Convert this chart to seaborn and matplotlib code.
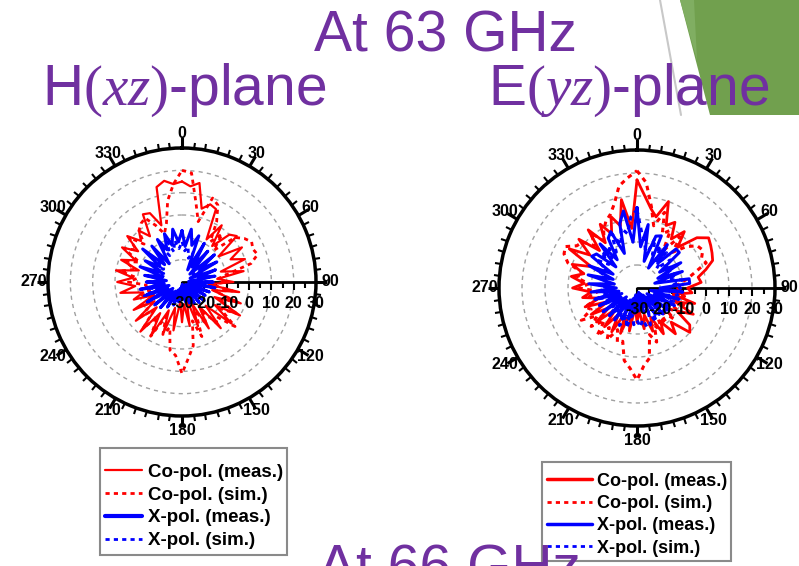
import numpy as np
import pandas as pd
import seaborn as sns
import matplotlib.pyplot as plt
from matplotlib.transforms import offset_copy
from matplotlib.patches import Polygon, Rectangle
from matplotlib.lines import Line2D

# angles in degrees (0 = broadside, clockwise), values in dB
angles = list(range(0, 360, 5))

# H(xz)-plane at 63 GHz
h_co_meas = [15, 13, 15, 4, 7, 6, -8, 1, -9, 0, 2, -10, 1, -6, 0, -12, -2, -14,
             -7, -18, -4, -16, -2, -14, 0, -12, -1, -15, -3, -17, -6, -19, -9, -22, -10, -20,
             -12, -21, -8, -18, -6, -16, -2, -13, -1, -14, -3, -15, -5, -16, -7, -12, -2, -9,
             -1, -8, 0, -10, -1, -7, 1, -6, 2, -4, 0, -5, 5, 4, -3, 14, 16, 14]
h_co_sim = [20, 19, 6, -2, 10, 8, 1, -8, -2, -10, 1, 4, 6, 5, 6, 2, -9, -14,
            -10, -17, -7, -15, -4, -12, -2, -9, 1, -8, -6, -15, -8, -16, -4, -12, -1, 4,
            11, 3, 1, -9, -5, -13, -2, -11, -3, -12, -6, -14, -8, -16, -10, -15, -11, -14,
            -6, -10, -2, -8, -3, -9, 0, -5, 1, -6, 0, 2, 3, -2, -7, -3, 7, 14]
h_x_meas = [-7, -14, -6, -13, -8, -24, -10, -21, -12, -25, -11, -20, -12, -26, -14, -22, -15, -27,
            -16, -24, -15, -27, -17, -25, -18, -28, -17, -26, -18, -28, -19, -27, -20, -28, -21, -29,
            -22, -28, -21, -27, -19, -26, -17, -25, -15, -24, -14, -25, -12, -23, -13, -24, -11, -22,
            -14, -23, -13, -21, -10, -20, -11, -18, -7, -19, -9, -20, -8, -14, -7, -13, -6, -12]
h_x_sim = [-12, -16, -14, -19, -16, -21, -16, -22, -17, -23, -18, -24, -19, -25, -20, -24, -19, -23,
           -17, -22, -19, -24, -21, -26, -21, -27, -22, -27, -23, -28, -24, -28, -25, -28, -26, -28,
           -26, -28, -25, -27, -23, -26, -20, -25, -18, -24, -16, -22, -14, -21, -12, -19, -13, -20,
           -15, -21, -16, -22, -17, -21, -15, -20, -13, -19, -13, -18, -13, -17, -11, -16, -11, -15]

# E(yz)-plane at 63 GHz
e_co_meas = [17, 10, 5, 2, 10, 0, 3, -4, 2, -5, 4, 8, 7, 6, 5, 1, -3, -2,
             -8, -6, -14, -4, -12, -3, -10, -2, 0, -9, -4, -12, -7, -16, -10, -18, -12, -20,
             -15, -22, -11, -19, -9, -18, -8, -16, -8, -17, -7, -15, -7, -16, -6, -13, -6, -10,
             -2, -7, -1, -6, 0, -8, 4, -5, 3, -7, 3, -6, 2, -4, 3, -2, 9, -4]
e_co_sim = [21, 16, 6, -2, 5, -4, -1, -10, -1, -8, -2, 2, 3, 1, 2, -4, -8, -12,
            -10, -16, -9, -15, -7, -14, -8, -16, -9, -17, -10, -14, -8, -12, -5, -9, 1, 4,
            10, 5, 2, -6, -5, -10, -4, -9, -3, -10, -4, -9, -2, -8, -6, -12, -9, -13,
            -5, -9, -3, -6, 2, 5, 6, 2, 1, -4, 1, -5, -1, 2, 4, 8, 15, 18]
e_x_meas = [5, -12, -2, -18, -6, -5, -20, -7, -16, -6, -6, -18, -8, -20, -9, -22, -7, -7,
            -20, -10, -24, -11, -22, -12, -25, -13, -24, -14, -26, -16, -27, -18, -28, -19, -27, -20,
            -26, -19, -27, -16, -25, -15, -24, -14, -23, -13, -24, -12, -22, -12, -23, -11, -22, -10,
            -21, -9, -20, -8, -19, -7, -18, -6, -7, -17, -5, -15, -5, -3, -14, -1, 4, -10]
e_x_sim = [4, -6, -10, -16, -7, -14, -9, -17, -10, -18, -11, -16, -10, -17, -11, -16, -10, -14,
           -11, -15, -12, -18, -13, -20, -13, -21, -14, -20, -15, -19, -13, -18, -13, -12, -16, -13,
           -16, -14, -18, -12, -17, -12, -18, -13, -19, -14, -18, -15, -20, -12, -19, -11, -18, -13,
           -17, -13, -18, -13, -16, -10, -15, -9, -14, -8, -13, -9, -12, -4, -10, -3, -6, 1]

labels = ['Co-pol. (meas.)', 'Co-pol. (sim.)', 'X-pol. (meas.)', 'X-pol. (sim.)']
colors = ['#ff0000', '#ff0000', '#0000ff', '#0000ff']
dots = (0, (1.5, 1.5))
styles = ['-', dots, '-', dots]

sns.set_theme(style='white')
plt.rcParams['font.family'] = ['Liberation Sans', 'DejaVu Sans']
plt.rcParams['mathtext.fontset'] = 'custom'
plt.rcParams['mathtext.it'] = 'Liberation Serif:italic'
plt.rcParams['mathtext.rm'] = 'Liberation Serif'

W, H = 799, 566
fig = plt.figure(figsize=(W / 100, H / 100), dpi=100)
fig.patch.set_facecolor('white')

purple = '#7030a0'


def fx(x):
    return x / W


def fy(y):
    return 1 - y / H


# slide decoration (green corner and thin grey line)
fig.add_artist(Polygon([(fx(680), fy(0)), (fx(799), fy(0)), (fx(799), fy(115)), (fx(710), fy(115))],
                       closed=True, transform=fig.transFigure, facecolor='#71a04e', edgecolor='none', zorder=0))
fig.add_artist(Polygon([(fx(680), fy(0)), (fx(694), fy(0)), (fx(697), fy(60))],
                       closed=True, transform=fig.transFigure, facecolor='#80ae62', edgecolor='none', zorder=0))
fig.add_artist(Line2D([fx(660), fx(681)], [fy(0), fy(115)], transform=fig.transFigure,
                      color='#c8c8c8', lw=1.5, zorder=0))


def polar_panel(cx, cy, r, series, lws):
    ax = fig.add_axes([fx(cx - r), fy(cy + r), 2 * r / W, 2 * r / H], projection='polar')
    ax.set_facecolor('none')
    ax.set_theta_zero_location('N')
    ax.set_theta_direction(-1)
    th = np.deg2rad(np.append(angles, 360))
    for vals, lab, c, ls, lw in zip(series, labels, colors, styles, lws):
        v = np.append(vals, vals[0])
        sns.lineplot(x=th, y=v, ax=ax, color=c, linestyle=ls, lw=lw, sort=False, zorder=3)
    ax.set_ylim(-30, 30)
    ax.set_yticks([-20, -10, 0, 10, 20])
    ax.set_yticklabels([])
    ax.yaxis.grid(True, color='#a0a0a0', linestyle=(0, (3, 3)), lw=1)
    ax.xaxis.grid(False)
    ax.set_xticks(np.deg2rad(np.arange(0, 360, 30)))
    ax.set_xticklabels([str(a) for a in range(0, 360, 30)], fontsize=11.5, fontweight='bold', color='black')
    ax.set_xticks(np.deg2rad(np.arange(0, 360, 5)), minor=True)
    ax.tick_params(axis='x', which='major', bottom=False, top=True, direction='out',
                   length=8, width=2.2, color='black', pad=-4.5)
    ax.tick_params(axis='x', which='minor', bottom=False, top=True, direction='out',
                   length=4.5, width=1.5, color='black')
    ax.spines['polar'].set_linewidth(2.5)
    ax.spines['polar'].set_color('black')
    ax.set_xlabel('')
    ax.set_ylabel('')
    # radial axis along 90 deg
    ax.plot([np.pi / 2, np.pi / 2], [-30, 30], color='black', lw=2, zorder=2)
    major_r = np.arange(-30, 31, 10)
    minor_r = np.arange(-25, 30, 10)
    ax.plot(np.full(len(major_r), np.pi / 2), major_r, ls='none', marker='|', ms=6, mew=1.5, color='black',
            transform=offset_copy(ax.transData, fig=fig, x=0, y=-4, units='dots'), zorder=2)
    ax.plot(np.full(len(minor_r), np.pi / 2), minor_r, ls='none', marker='|', ms=4, mew=1.5, color='black',
            transform=offset_copy(ax.transData, fig=fig, x=0, y=-3, units='dots'), zorder=2)
    lab_tr = offset_copy(ax.transData, fig=fig, x=0, y=-22, units='dots')
    for rv in major_r:
        ax.text(np.pi / 2, rv, str(rv), transform=lab_tr, ha='center', va='center',
                fontsize=11.5, fontweight='bold', color='black', zorder=6)
    return ax


polar_panel(182, 282, 134, [h_co_meas, h_co_sim, h_x_meas, h_x_sim], [1.6, 2.0, 2.2, 2.0])
polar_panel(637, 288, 138, [e_co_meas, e_co_sim, e_x_meas, e_x_sim], [2.0, 2.2, 2.2, 2.2])

# titles
fig.text(fx(446), fy(51), 'At 63 GHz', ha='center', va='baseline', fontsize=41, color=purple, zorder=5)
fig.text(fx(42), fy(105), r'H$\mathrm{(}\mathit{xz}\mathrm{)}$-plane', ha='left', va='baseline',
         fontsize=41, color=purple, zorder=5)
fig.text(fx(488), fy(105), r'E$\mathrm{(}\mathit{yz}\mathrm{)}$-plane', ha='left', va='baseline',
         fontsize=41, color=purple, zorder=5)
fig.text(fx(449), fy(586), 'At 66 GHz', ha='center', va='baseline', fontsize=41, color=purple, zorder=5)


# legends
def legend_box(x0, y0, x1, y1, ly, size, hl, lws):
    handles = [Line2D([], [], color=c, linestyle=ls, lw=lw) for c, ls, lw in zip(colors, styles, lws)]
    fig.add_artist(Rectangle((fx(x0), fy(y1)), fx(x1) - fx(x0), fy(y0) - fy(y1), transform=fig.transFigure,
                             facecolor='white', edgecolor='#8a8a8a', lw=1.5, zorder=1))
    lg = fig.legend(handles, labels, loc='upper left', bbox_to_anchor=(fx(x0), fy(ly)),
                    frameon=False, prop={'weight': 'bold', 'size': size}, handlelength=hl,
                    handletextpad=0.3, borderpad=0.25, labelspacing=0.30, borderaxespad=0)
    lg.set_zorder(2)
    for t in lg.get_texts():
        t.set_color('black')


legend_box(100, 448, 287, 555, 459, 13.5, 2.0, [1.6, 2.0, 3.0, 2.0])
legend_box(542, 462, 731, 561, 468, 13, 2.5, [2.5, 2.0, 2.5, 2.0])

fig.savefig('out.png', dpi=100)
